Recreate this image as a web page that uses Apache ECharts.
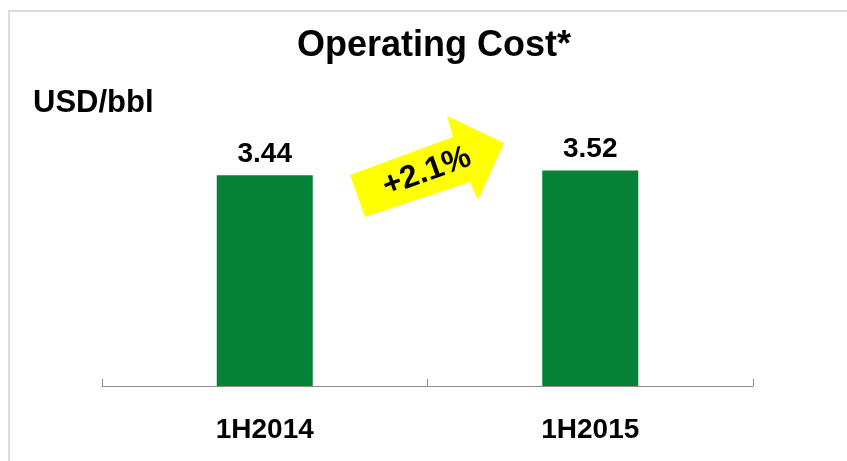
<!DOCTYPE html>
<html>
<head>
<meta charset="utf-8">
<script src="https://cdn.jsdelivr.net/npm/echarts@6/dist/echarts.min.js"></script>
<style>
  html, body { margin: 0; padding: 0; background: #fff; }
  #chart { width: 847px; height: 461px; }
</style>
</head>
<body>
<div id="chart"></div>
<script>
// data
const categories = ['1H2014', '1H2015'];
const opCost = [3.44, 3.52];
const changeLabel = '+2.1%';

const FONT = '"Liberation Sans", Arial, sans-serif';

const chartDom = document.getElementById('chart');
const myChart = echarts.init(chartDom, null, { renderer: 'canvas' });

const option = {
    backgroundColor: '#ffffff',
    animation: false,
    title: [
        {
            text: 'Operating Cost*',
            left: 292,
            top: 23,
            textStyle: { fontFamily: FONT, fontWeight: 'bold', fontSize: 36, color: '#000' }
        },
        {
            text: 'USD/bbl',
            left: 28,
            top: 83,
            textStyle: { fontFamily: FONT, fontWeight: 'bold', fontSize: 31, color: '#000' }
        }
    ],
    grid: { left: 102, right: 94, top: 141, bottom: 75 },
    xAxis: {
        type: 'category',
        data: categories,
        axisLine: { lineStyle: { color: '#8c8c8c', width: 1 } },
        axisTick: { show: true, inside: true, length: 7, lineStyle: { color: '#8c8c8c' } },
        axisLabel: { margin: 30, fontFamily: FONT, fontWeight: 'bold', fontSize: 28, color: '#000' }
    },
    yAxis: {
        type: 'value',
        min: 0,
        max: 4,
        show: false
    },
    series: [{
        type: 'bar',
        data: opCost,
        barWidth: 96,
        itemStyle: { color: '#068237' },
        label: {
            show: true,
            position: 'top',
            distance: 7,
            formatter: (p) => p.value.toFixed(2),
            fontFamily: FONT,
            fontWeight: 'bold',
            fontSize: 28,
            color: '#000'
        }
    }],
    graphic: [
        // light frame around the slide panel
        {
            type: 'rect',
            shape: { x: 9, y: 11, width: 900, height: 500 },
            style: { fill: 'none', stroke: '#dcdcdc', lineWidth: 2 },
            silent: true
        },
        // yellow change arrow
        {
            type: 'polygon',
            shape: {
                points: [[350, 175], [453, 137], [447, 116], [504, 143], [478, 200], [470, 182], [365, 217]]
            },
            style: { fill: '#ffff00' },
            silent: true
        },
        {
            type: 'text',
            x: 427,
            y: 172,
            rotation: 20 * Math.PI / 180,
            style: {
                text: changeLabel,
                fontFamily: FONT,
                fontWeight: 'bold',
                fontSize: 32,
                fill: '#000',
                align: 'center',
                verticalAlign: 'middle'
            },
            silent: true
        }
    ]
};

myChart.setOption(option);

window.addEventListener('resize', () => {
    myChart.resize();
});
</script>
</body>
</html>
